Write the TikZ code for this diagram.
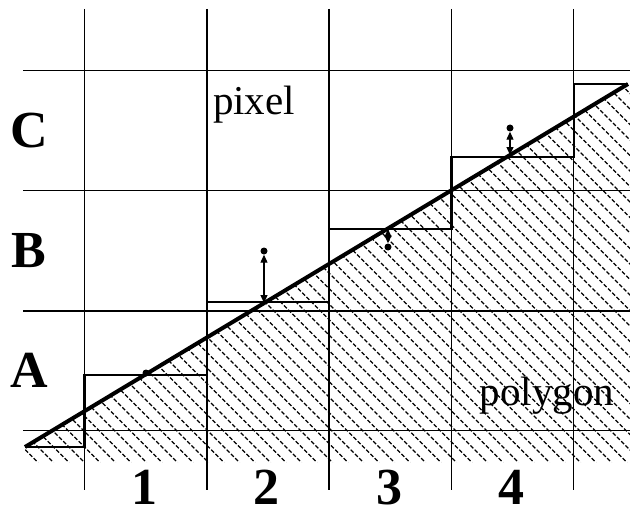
\documentclass[tikz,border=0pt]{standalone}
\usepackage{fontspec}
\setmainfont{Liberation Serif}
\usetikzlibrary{arrows.meta}
\begin{document}
\begin{tikzpicture}[x=1pt,y=-1pt,
  gridline/.style={line width=1.4pt},
  stair/.style={line width=2.4pt},
  edgeline/.style={line width=4pt},
  hatchline/.style={line width=1.3pt, dash pattern=on 4pt off 2pt},
  errarrow/.style={line width=1.1pt, {Triangle[length=8pt,width=7pt]}-{Triangle[length=8pt,width=7pt]}},
  pdot/.style={circle, fill, inner sep=0pt, minimum size=7pt},
  biglab/.style={font=\fontsize{52}{60}\selectfont\bfseries, anchor=base, inner sep=0pt},
  txt/.style={font=\fontsize{41}{48}\selectfont, anchor=base, inner sep=0pt}]
\useasboundingbox (0,0) rectangle (630,511);
\fill[white] (0,0) rectangle (630,511);

% hatching of the polygon
\begin{scope}
  \clip (25,447) -- (628,84) -- (630,84) -- (630,462) -- (25,462) -- cycle;
  \foreach \k in {-30,...,36} \draw[hatchline] (25+15.5*\k,0) -- ++(520,520);
\end{scope}

% pixel grid
\foreach \y in {70.5,190.5,310.8,430.5} \draw[gridline] (23,\y) -- (630,\y);
\foreach \x in {84.5,206.8,329.1,451.4,573.7} \draw[gridline] (\x,9) -- (\x,490);

% staircase approximation
\draw[stair] (25,447) -| (84.5,375) -| (206.8,302) -| (329.1,229) -| (451.4,157) -| (573.7,84) -- (628,84);

% polygon edge
\coordinate (p0) at (25,447);
\coordinate (p1) at (628,84);
\draw[edgeline] (p0) -- (p1);

% pixel centres and errors
\node[pdot] (d1) at (146,373) {};
\node[pdot] (d2) at (264,251) {};
\node[pdot] (d3) at (388,247) {};
\node[pdot] (d4) at (510,128) {};
\coordinate (e2) at (264,303);
\coordinate (e3) at (388,229);
\coordinate (e4) at (510,155);
\draw[errarrow] (d2) -- (e2);
\draw[errarrow] (d3) -- (e3);
\draw[errarrow] (d4) -- (e4);

% labels
\node[biglab] (lc) at (29,147) {C};
\node[biglab] (lb) at (29,267) {B};
\node[biglab] (la) at (29,387) {A};
\node[biglab] (n1) at (144,504) {1};
\node[biglab] (n2) at (266,504) {2};
\node[biglab] (n3) at (389,504) {3};
\node[biglab] (n4) at (511,504) {4};
\node[txt] (px) at (254,115) {pixel};
\node[txt] (pg) at (547,405) {polygon};
\end{tikzpicture}
\end{document}
